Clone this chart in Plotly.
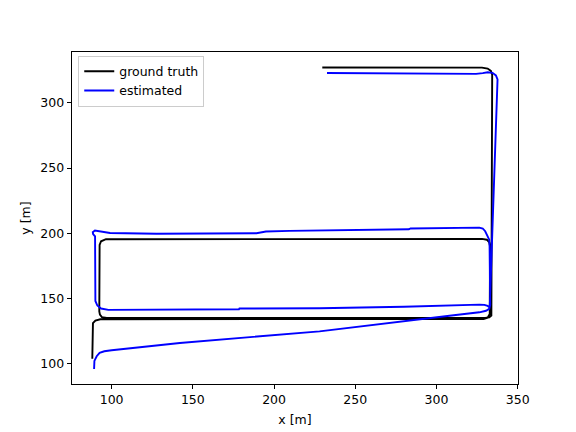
import plotly.graph_objects as go

# Ground truth trajectory (x [m], y [m])
gt_x = [229.7, 328.0, 331.5, 333.5, 334.3, 334.2, 333.8, 332.5, 330.0, 97.0, 94.0, 92.8, 92.4,
        92.6, 93.5, 96.5, 328.0, 331.0, 332.5, 333.0, 332.8, 331.5, 329.0, 93.0, 90.0, 88.5, 88.1]
gt_y = [327.1, 327.0, 326.3, 324.5, 321.5, 139.5, 136.8, 135.5, 135.0, 135.0, 135.6, 137.5, 140.0,
        191.0, 193.8, 195.4, 195.6, 195.0, 193.0, 190.0, 138.0, 135.2, 134.1, 134.0, 133.0, 131.0, 103.6]

# Estimated trajectory (x [m], y [m])
est_x = [232.6, 280.0, 324.4, 328.5, 331.5, 334.5, 336.6, 337.6,
         337.5, 336.0, 334.3, 333.5, 333.0, 332.8,
         331.5, 329.5, 326.5,
         310.0, 299.8, 299.5, 280.0, 228.0, 178.7, 178.4, 142.0, 105.0, 98.0, 93.5, 91.2, 90.0,
         89.9, 90.2, 90.0, 89.8, 88.6, 88.4, 89.7, 91.5, 93.5, 99.0, 127.7, 189.2, 195.0, 209.6,
         283.0, 284.0, 326.4, 328.5, 330.0, 331.5, 332.5, 332.7,
         333.0, 333.1, 332.5, 330.5, 326.4,
         308.0, 228.0, 170.7, 142.0, 100.0, 95.5, 92.6, 90.8, 89.4, 89.1, 89.2]
est_y = [322.9, 322.5, 322.2, 322.8, 323.4, 323.0, 321.0, 318.0,
         314.0, 260.0, 200.0, 170.0, 150.0, 143.0,
         144.2, 145.0, 145.2,
         144.5, 144.3, 144.0, 143.6, 142.4, 142.2, 141.6, 141.3, 141.0, 141.2, 142.2, 144.5, 148.0,
         160.0, 180.0, 192.5, 197.5, 199.3, 200.8, 202.0, 201.7, 200.9, 200.1, 199.6, 200.0, 201.3, 201.8,
         203.0, 203.6, 204.3, 203.6, 201.5, 198.0, 195.0, 190.0,
         160.0, 145.0, 142.0, 140.5, 139.3,
         136.7, 124.7, 118.9, 115.8, 110.2, 109.4, 108.2, 105.6, 102.0, 98.0, 95.8]

x_ticks = [100, 150, 200, 250, 300, 350]
y_ticks = [100, 150, 200, 250, 300]

FONT = "DejaVu Sans"

fig = go.Figure()
fig.add_trace(go.Scatter(x=gt_x, y=gt_y, mode="lines", name="ground truth",
                         line=dict(color="black", width=1.9)))
fig.add_trace(go.Scatter(x=est_x, y=est_y, mode="lines", name="estimated",
                         line=dict(color="blue", width=1.9)))

axis_common = dict(showline=True, mirror=True, linecolor="black", linewidth=1,
                   ticks="outside", ticklen=4.4, tickwidth=1, tickcolor="black",
                   showgrid=False, zeroline=False,
                   tickfont=dict(family=FONT, size=12.5, color="black"))

fig.update_xaxes(range=[75.6, 350.2], tickvals=x_ticks, ticktext=[str(v) for v in x_ticks],
                 title=dict(text="x [m]", font=dict(family=FONT, size=12.5, color="black"), standoff=8),
                 **axis_common)
fig.update_yaxes(range=[84.3, 339.0], tickvals=y_ticks, ticktext=[str(v) for v in y_ticks],
                 title=dict(text="y [m]", font=dict(family=FONT, size=12.5, color="black"), standoff=6),
                 **axis_common)

# the page body adds an 8px offset; margins compensate so the plot area lands where the reference has it
fig.update_layout(
    width=576, height=432,
    margin=dict(l=64, r=65.6, t=43.8, b=55.5),
    paper_bgcolor="white", plot_bgcolor="white",
    font=dict(family=FONT, size=12.5, color="black"),
    legend=dict(x=0.014, y=0.989, xanchor="left", yanchor="top",
                bgcolor="rgba(255,255,255,0.8)", bordercolor="#cccccc", borderwidth=1,
                tracegroupgap=0,
                font=dict(family=FONT, size=12.5, color="black")),
    showlegend=True,
)

fig.write_html("out.html")
